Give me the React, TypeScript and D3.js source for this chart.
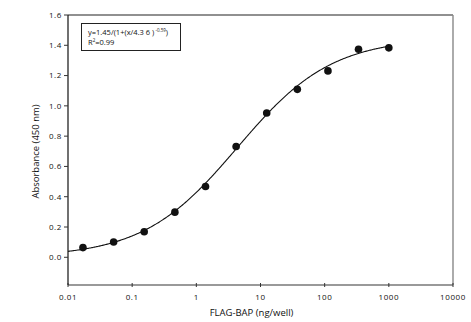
import React from "react";
import * as d3 from "d3";

const concentrations = [0.0171, 0.0514, 0.154, 0.463, 1.39, 4.17, 12.5, 37.5, 112.5, 337, 1000];
const absorbance = [0.064, 0.101, 0.169, 0.298, 0.467, 0.732, 0.953, 1.109, 1.231, 1.374, 1.383];
const errors = [0.01, 0.01, 0.012, 0.012, 0.02, 0.012, 0.02, 0.012, 0.015, 0.015, 0.012];
const xTicks = [0.01, 0.1, 1, 10, 100, 1000, 10000];
const xTickLabels = ["0.01", "0.1", "1", "10", "100", "1000", "10000"];
const yTicks = [0.0, 0.2, 0.4, 0.6, 0.8, 1.0, 1.2, 1.4, 1.6];
// fitted model parameters (as shown in the chart's equation)
const fitTop = 1.45;
const fitEC50 = 4.36;
const fitSlope = 0.59;

const W = 471, H = 322;
const left = 68, right = 453, top = 15, bottom = 285;
const FONT = "'Open Sans', 'DejaVu Sans', sans-serif";

export default function App() {
  const x = d3.scaleLog().domain([0.01, 10000]).range([left, right]);
  const y = d3.scaleLinear().domain([-0.183, 1.6]).range([bottom, top]);

  const curveXs = d3.range(0, 401).map((i) => Math.pow(10, -2 + (5 * i) / 400));
  const fitPts: [number, number][] = curveXs.map((c) => [c, fitTop / (1 + Math.pow(c / fitEC50, -fitSlope))]);
  const line = d3.line<[number, number]>().x((d) => x(d[0])).y((d) => y(d[1]));

  return (
    <svg width={W} height={H} style={{ position: "absolute", left: 0, top: 0, background: "#fff" }}>
      {/* frame */}
      <line x1={left} x2={right} y1={top} y2={top} stroke="#222" strokeWidth={1.2} />
      <line x1={right} x2={right} y1={top} y2={bottom} stroke="#888" strokeWidth={1.4} />
      <line x1={left} x2={right} y1={bottom} y2={bottom} stroke="#777" strokeWidth={1.4} />
      <line x1={left} x2={left} y1={top} y2={bottom} stroke="#111" strokeWidth={1.2} />

      {/* y ticks */}
      {yTicks.map((t) => (
        <g key={t}>
          <line x1={left - 4} x2={left} y1={y(t)} y2={y(t)} stroke="#333" strokeWidth={1} />
          <text x={left - 6} y={y(t)} dy="0.35em" textAnchor="end" fontSize={8} fontFamily={FONT} fill="#111" letterSpacing={0.6}>
            {t.toFixed(1)}
          </text>
        </g>
      ))}
      {/* x ticks */}
      {xTicks.map((t, i) => (
        <g key={t}>
          <line x1={x(t)} x2={x(t)} y1={bottom - 2} y2={bottom + 2} stroke="#333" strokeWidth={1} />
          <text x={x(t)} y={bottom + 12} dy="0.35em" textAnchor="middle" fontSize={8} fontFamily={FONT} fill="#111" letterSpacing={0.6}>
            {xTickLabels[i]}
          </text>
        </g>
      ))}

      {/* axis titles */}
      <text x={251.5} y={313} textAnchor="middle" dy="0.35em" fontSize={9.5} fontFamily={FONT} fill="#111">
        FLAG-BAP (ng/well)
      </text>
      <text transform={`translate(36,151.5) rotate(-90)`} textAnchor="middle" dy="0.35em" fontSize={9.5} fontFamily={FONT} fill="#111">
        Absorbance (450 nm)
      </text>

      {/* fit curve */}
      <path d={line(fitPts.filter((p) => p[0] <= 1000)) || ""} fill="none" stroke="#111" strokeWidth={1.1} />

      {/* error bars and points */}
      {concentrations.map((c, i) => (
        <g key={i}>
          <line x1={x(c)} x2={x(c)} y1={y(absorbance[i] - errors[i])} y2={y(absorbance[i] + errors[i])} stroke="#111" strokeWidth={1} />
          <circle cx={x(c)} cy={y(absorbance[i])} r={3.8} fill="#111" />
        </g>
      ))}

      {/* equation box */}
      <rect x={81.5} y={23.5} width={99} height={27} fill="#fff" stroke="#222" strokeWidth={1} />
      <text x={88} y={35} fontSize={7.5} fontFamily={FONT} fill="#111">
        y=1.45/(1+(x/4.3 6 )
        <tspan fontSize={4.5} dy={-3}> -0.59</tspan>
        <tspan dy={3}>)</tspan>
      </text>
      <text x={88} y={45} fontSize={7.5} fontFamily={FONT} fill="#111">
        R<tspan fontSize={4.5} dy={-3}>2</tspan>
        <tspan dy={3}>=0.99</tspan>
      </text>
    </svg>
  );
}
